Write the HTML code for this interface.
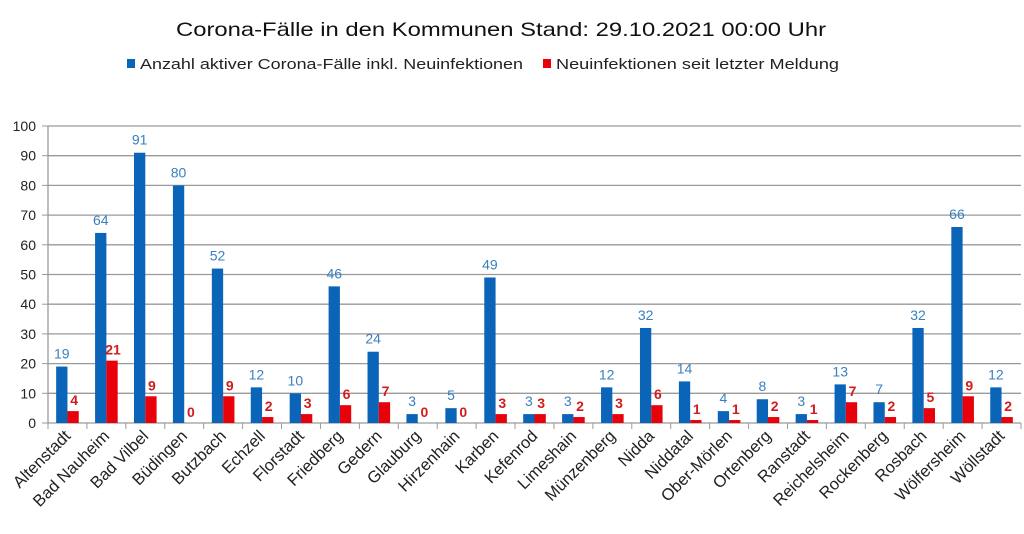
<!DOCTYPE html>
<html><head><meta charset="utf-8"><style>
html,body{margin:0;padding:0;background:#fff;}
svg{display:block;font-family:"Liberation Sans",sans-serif;}
</style></head><body>
<svg id="s" width="1024" height="534" xmlns="http://www.w3.org/2000/svg">
<text x="501" y="36" font-size="19.5" text-anchor="middle" fill="#111" textLength="650" lengthAdjust="spacingAndGlyphs">Corona-Fälle in den Kommunen Stand: 29.10.2021 00:00 Uhr</text>
<rect x="127" y="59" width="8" height="9" fill="#0a64b8"/>
<text x="140" y="69" font-size="15" fill="#222" textLength="383" lengthAdjust="spacingAndGlyphs">Anzahl aktiver Corona-Fälle inkl. Neuinfektionen</text>
<rect x="543" y="59" width="8" height="9" fill="#e8000b"/>
<text x="556" y="69" font-size="15" fill="#222" textLength="283" lengthAdjust="spacingAndGlyphs">Neuinfektionen seit letzter Meldung</text>
<g id="g"></g>
</svg>
<script>
var names=["Altenstadt","Bad Nauheim","Bad Vilbel","Büdingen","Butzbach","Echzell","Florstadt","Friedberg","Gedern","Glauburg","Hirzenhain","Karben","Kefenrod","Limeshain","Münzenberg","Nidda","Niddatal","Ober-Mörlen","Ortenberg","Ranstadt","Reichelsheim","Rockenberg","Rosbach","Wölfersheim","Wöllstadt"];
var a=[19,64,91,80,52,12,10,46,24,3,5,49,3,3,12,32,14,4,8,3,13,7,32,66,12];
var b=[4,21,9,0,9,2,3,6,7,0,0,3,3,2,3,6,1,1,2,1,7,2,5,9,2];
var x0=48,x1=1021,y0=423,y100=126,w=(x1-x0)/25,k=(y0-y100)/100,h='';
for(var i=0;i<=10;i++){var y=y0-i*10*k;h+='<line x1="'+x0+'" x2="'+x1+'" y1="'+y+'" y2="'+y+'" stroke="#9a9a9a" stroke-width="1.3"/>';h+='<text x="36" y="'+(y+5)+'" font-size="14" text-anchor="end" fill="#222">'+(i*10)+'</text>';h+='<line x1="42" x2="48" y1="'+y+'" y2="'+y+'" stroke="#9a9a9a"/>';}
h+='<line x1="48" x2="48" y1="'+y100+'" y2="'+y0+'" stroke="#9a9a9a" stroke-width="1.3"/>';
for(var i=0;i<25;i++){var c=x0+w*i+w/2;var bw=11.3;
h+='<line x1="'+(x0+w*i)+'" x2="'+(x0+w*i)+'" y1="'+y0+'" y2="'+(y0+6)+'" stroke="#9a9a9a"/>';
h+='<rect x="'+(c-bw)+'" y="'+(y0-a[i]*k)+'" width="'+bw+'" height="'+(a[i]*k)+'" fill="#0a64b8"/>';
h+='<rect x="'+c+'" y="'+(y0-b[i]*k)+'" width="'+bw+'" height="'+(b[i]*k)+'" fill="#e8000b"/>';
h+='<text x="'+(c-bw/2)+'" y="'+(y0-a[i]*k-8)+'" font-size="14" text-anchor="middle" fill="#3a7fbf">'+a[i]+'</text>';
h+='<text x="'+(c+bw/2+1)+'" y="'+(y0-b[i]*k-6)+'" font-size="14" font-weight="bold" text-anchor="middle" fill="#d01c1c">'+b[i]+'</text>';
h+='<text transform="translate('+(c+4)+',437) rotate(-45)" font-size="16.5" text-anchor="end" fill="#222">'+names[i]+'</text>';}
h+='<line x1="'+x1+'" x2="'+x1+'" y1="'+y0+'" y2="'+(y0+6)+'" stroke="#9a9a9a"/>';
document.getElementById('g').innerHTML=h;
</script>
</body></html>
